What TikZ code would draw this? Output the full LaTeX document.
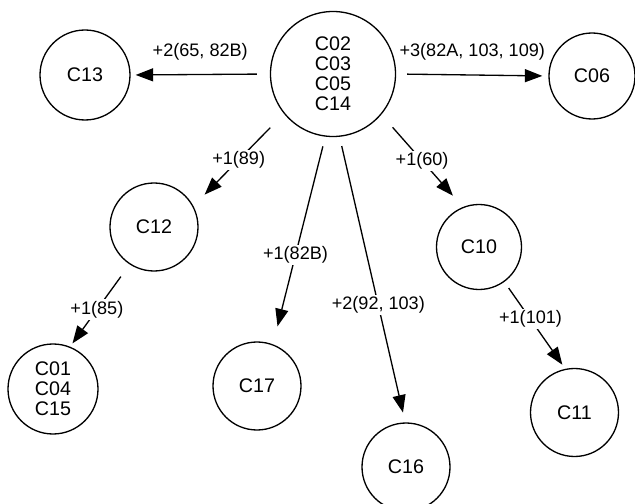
\documentclass[tikz,border=0pt]{standalone}
\usepackage{fontspec}
\setmainfont{Liberation Sans}
\usetikzlibrary{arrows.meta, positioning}

\begin{document}
\begin{tikzpicture}[
        % --- Styles ---
        cluster/.style={circle, draw=black, line width=0.75pt, minimum size=1.76cm, inner sep=0pt, align=center, font=\fontsize{11.2}{11.4}\selectfont},
        % --- Line Styles ---
        link/.style={draw, -{Triangle[length=3.5mm, width=2.6mm]}, color=black, line width=0.75pt},
        gain/.style={font=\fontsize{10.3}{12}\selectfont, fill=white, inner sep=1pt},
        toplabel/.style={font=\fontsize{10.3}{12}\selectfont, above=0.16cm, midway}
    ]
        \useasboundingbox (0,0) rectangle (12.7,-10.08);

        % --- Top Row ---
        \node[cluster, minimum size=2.5cm] (core) at (6.66,-1.48) {C02\\C03\\C05\\C14};
        \node[cluster, minimum size=1.8cm] (c13) at (1.70,-1.50) {C13};
        \node[cluster, minimum size=1.72cm] (c06) at (11.84,-1.52) {C06};

        % --- Middle Row ---
        \node[cluster] (c12) at (3.08,-4.54) {C12};
        \node[cluster, minimum size=1.7cm] (c10) at (9.58,-4.94) {C10};

        % --- Bottom Row ---
        \node[cluster, minimum size=1.8cm] (c01) at (1.06,-7.78) {C01\\C04\\C15};
        \node[cluster] (c17) at (5.14,-7.72) {C17};
        \node[cluster] (c16) at (8.12,-9.34) {C16};
        \node[cluster] (c11) at (11.49,-8.25) {C11};

        % --- Connections from the core ---
        \draw[link, shorten <=0.26cm, shorten >=0.1cm] (core.180) -- node[toplabel] {+2(65, 82B)} (c13.0);
        \draw[link, shorten <=0.22cm, shorten >=0.12cm] (core.0) -- node[toplabel] {+3(82A, 103, 109)} (c06.180);
        \draw[link, shorten <=0.39cm, shorten >=0.32cm] (core.219) -- node[gain, pos=0.5] {+1(89)} (c12.28);
        \draw[link, shorten <=0.34cm, shorten >=0.3cm] (core.-40) -- node[gain, pos=0.5] {+1(60)} (c10.112);
        \draw[link, shorten <=0.2cm, shorten >=0.37cm] (core.263) -- node[gain, pos=0.57] {+1(82B)} (c17.69);
        \draw[link, shorten <=0.19cm, shorten >=0.2cm] (core.276) -- node[gain, pos=0.59] {+2(92, 103)} (c16.91);

        % --- Second level ---
        \draw[link, shorten <=0.3cm, shorten >=0.08cm] (c12.237) -- node[gain, pos=0.55] {+1(85)} (c01.68);
        \draw[link, shorten <=0.15cm, shorten >=0.1cm] (c10.306) -- node[gain, pos=0.43] {+1(101)} (c11.102);

    \end{tikzpicture}
\end{document}
